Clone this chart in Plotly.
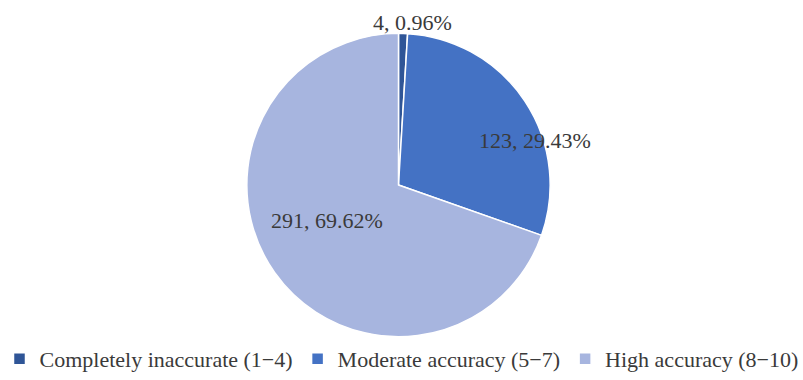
import plotly.graph_objects as go

categories = ["Completely inaccurate (1\u22124)", "Moderate accuracy (5\u22127)", "High accuracy (8\u221210)"]
counts = [4, 123, 291]
percents = ["0.96%", "29.43%", "69.62%"]
colors = ["#2F5597", "#4472C4", "#A7B5DF"]

labels_text = [f"{c}, {p}" for c, p in zip(counts, percents)]

W, H = 803, 380
fig = go.Figure(go.Pie(
    labels=categories,
    values=counts,
    textinfo="none",
    sort=False,
    direction="clockwise",
    rotation=0,
    marker=dict(colors=colors, line=dict(color="white", width=1.5)),
    domain=dict(x=[245 / W, 552 / W], y=[(H - 343) / H, (H - 34) / H]),
    showlegend=True,
    hoverinfo="label+value+percent",
))

# label anchor positions (pixels) for each slice label
label_px = [(412, 23), (535, 143), (327, 225)]
annotations = []
for txt, (px, py) in zip(labels_text, label_px):
    annotations.append(dict(
        text=txt, x=px / W, y=(H - py) / H, xref="paper", yref="paper",
        showarrow=False, xanchor="center", yanchor="middle",
        font=dict(family="Liberation Serif", size=22, color="#3a3a3a"),
    ))

fig.update_layout(
    width=W, height=H,
    margin=dict(l=0, r=0, t=0, b=0),
    paper_bgcolor="white",
    plot_bgcolor="white",
    font=dict(family="Liberation Serif", size=22, color="#3a3a3a"),
    annotations=annotations,
    legend=dict(orientation="h", x=0.5, xanchor="center", y=(H - 366) / H, yanchor="middle",
                font=dict(family="Liberation Serif", size=22, color="#3a3a3a"),
                itemwidth=30, tracegroupgap=0),
)

fig.write_html("out.html")
